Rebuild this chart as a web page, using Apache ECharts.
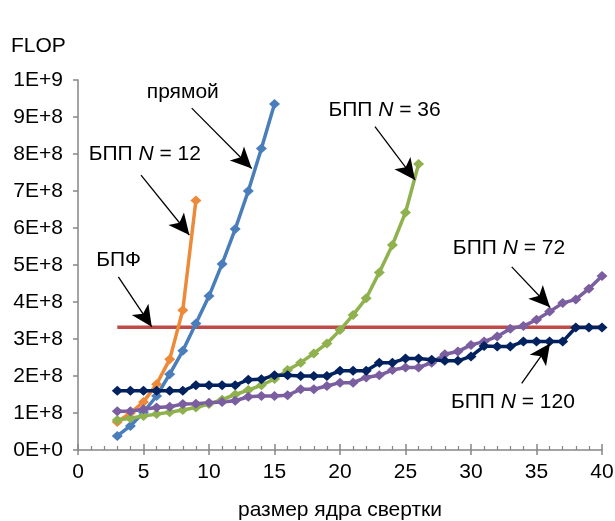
<!DOCTYPE html>
<html><head><meta charset="utf-8">
<script src="https://cdn.jsdelivr.net/npm/echarts@6/dist/echarts.min.js"></script>
<style>html,body{margin:0;padding:0;background:#fff}#c{width:615px;height:521px}</style>
</head><body><div id="c"></div>
<script>
// kernel sizes start at 3
const xStart = 3;
// values in units of 1E+8 FLOP
const direct = [0.38,0.65,1.02,1.46,2.05,2.68,3.42,4.16,5.03,5.97,7.0,8.15,9.35];           // x = 3..15
const fft12  = [0.76,1.0,1.3,1.78,2.45,3.78,6.74];                                          // x = 3..9
const fft36  = [0.81,0.86,0.92,0.97,1.02,1.08,1.15,1.24,1.36,1.5,1.62,1.75,1.92,2.16,2.36,2.61,2.88,3.24,3.65,4.1,4.8,5.54,6.42,7.73]; // x = 3..26
const fft72  = [1.05,1.05,1.1,1.15,1.17,1.24,1.25,1.28,1.3,1.33,1.44,1.46,1.46,1.48,1.64,1.64,1.73,1.82,1.82,1.96,2.02,2.16,2.23,2.23,2.36,2.59,2.66,2.84,2.93,3.07,3.28,3.35,3.52,3.74,3.97,4.07,4.36,4.7]; // x = 3..40
const fft120 = [1.6,1.6,1.6,1.6,1.6,1.6,1.75,1.75,1.75,1.75,1.9,1.91,2.02,2.02,2.0,2.0,2.0,2.14,2.14,2.14,2.36,2.36,2.47,2.47,2.44,2.41,2.41,2.53,2.81,2.8,2.8,2.93,2.93,2.93,2.93,3.31,3.31,3.31]; // x = 3..40
const dft = [3.32, 3.32];        // flat line
const dftX = [3, 40];
const yTicks = ['0E+0','1E+8','2E+8','3E+8','4E+8','5E+8','6E+8','7E+8','8E+8','9E+8','1E+9'];

const SCALE = 1e8;
function pairs(arr){ return arr.map((v,i)=>[xStart+i, v*SCALE]); }

// annotation arrows: [tailX, tailY(E+8), tipX, tipY(E+8)]
const arrows = [
  [8.68, 9.24, 13.26, 7.61],
  [4.81, 7.43, 8.50, 5.81],
  [3.08, 4.68, 5.63, 3.33],
  [22.67, 8.74, 25.73, 7.30],
  [33.11, 4.95, 36.03, 3.86],
  [33.87, 1.80, 36.03, 2.88]
];

const FONT = "'Liberation Sans', Arial, sans-serif";
const FS = 21;
const chart = echarts.init(document.getElementById('c'), null, {renderer:'canvas'});

function lineSeries(name, data, color){
  return {
    name, type:'line', data: pairs(data),
    symbol:'diamond', symbolSize:[11,10], showSymbol:true,
    lineStyle:{color, width:3.5}, itemStyle:{color},
    animation:false, z:3
  };
}

const axisGray = '#868686';
const option = {
  animation:false,
  grid:{left:78, right:13, top:80, bottom:71, containLabel:false, outerBoundsMode:'none'},
  xAxis:[{
    type:'value', min:0, max:40, interval:5,
    axisLine:{lineStyle:{color:axisGray, width:1.5}},
    axisTick:{show:true, length:5, lineStyle:{color:axisGray, width:1.5}},
    minorTick:{show:false},
    splitLine:{show:false},
    axisLabel:{color:'#000', fontSize:FS, fontFamily:FONT, margin:12},
    name:'размер ядра свертки', nameLocation:'middle', nameGap:50,
    nameTextStyle:{color:'#000', fontSize:FS, fontFamily:FONT}
  },{
    type:'value', min:0, max:40, interval:5, position:'bottom',
    axisLine:{show:false},
    axisTick:{show:true, inside:true, length:6, lineStyle:{color:axisGray, width:1.5}},
    minorTick:{show:true, splitNumber:5, length:4, lineStyle:{color:axisGray, width:1.2}},
    splitLine:{show:false}, axisLabel:{show:false}
  }],
  yAxis:{
    type:'value', min:0, max:1e9, interval:1e8,
    axisLine:{show:true, lineStyle:{color:axisGray, width:1.5}},
    axisTick:{show:true, length:5, lineStyle:{color:axisGray, width:1.5}},
    splitLine:{show:false},
    axisLabel:{color:'#000', fontSize:FS, fontFamily:FONT, margin:15,
      formatter:(v)=>yTicks[Math.round(v/SCALE)]}
  },
  series:[
    {name:'БПФ', type:'line', data: dftX.map((x,i)=>[x, dft[i]*SCALE]), showSymbol:false,
     lineStyle:{color:'#BE4B48', width:3.5}, itemStyle:{color:'#BE4B48'}, z:2},
    lineSeries('прямой', direct, '#4A7EBB'),
    lineSeries('БПП N = 12', fft12, '#EC8A3A'),
    lineSeries('БПП N = 36', fft36, '#8FB14E'),
    lineSeries('БПП N = 72', fft72, '#7B5EA0'),
    lineSeries('БПП N = 120', fft120, '#02215F'),
    {name:'arrows', type:'line', data:[], z:5,
     markLine:{silent:true, animation:false, symbol:['none','arrow'], symbolSize:[15,21],
       label:{show:false}, emphasis:{disabled:true},
       lineStyle:{color:'#000', width:1.3, type:'solid'},
       data: arrows.map(a=>[{coord:[a[0], a[1]*SCALE]},{coord:[a[2], a[3]*SCALE]}])}}
  ],
  graphic:[
    {type:'text', left:11, top:36, style:{text:'FLOP', fill:'#000', font:FS+"px "+FONT}},
  ]
};
chart.setOption(option);

// annotation labels placed at data positions
const labels = [
  {x:8.0, y:9.68, parts:[['прямой','n']]},
  {x:5.1, y:8.0, parts:[['БПП ','n'],['N','i'],[' = 12','n']]},
  {x:3.1, y:5.13, parts:[['БПФ','n']]},
  {x:23.4, y:9.19, parts:[['БПП ','n'],['N','i'],[' = 36','n']]},
  {x:32.9, y:5.46, parts:[['БПП ','n'],['N','i'],[' = 72','n']]},
  {x:33.2, y:1.3, parts:[['БПП ','n'],['N','i'],[' = 120','n']]}
];
const g = labels.map(l=>{
  const p = chart.convertToPixel({xAxisIndex:0, yAxisIndex:0}, [l.x, l.y*SCALE]);
  return {type:'text', x:p[0], y:p[1], z:10,
    style:{text:l.parts.map(q=>'{'+q[1]+'|'+q[0]+'}').join(''), align:'center', verticalAlign:'middle',
      rich:{n:{fontSize:FS, fontFamily:FONT, fill:'#000'}, i:{fontSize:FS, fontFamily:FONT, fontStyle:'italic', fill:'#000'}}}};
});
chart.setOption({graphic: option.graphic.concat(g)});
</script></body></html>
